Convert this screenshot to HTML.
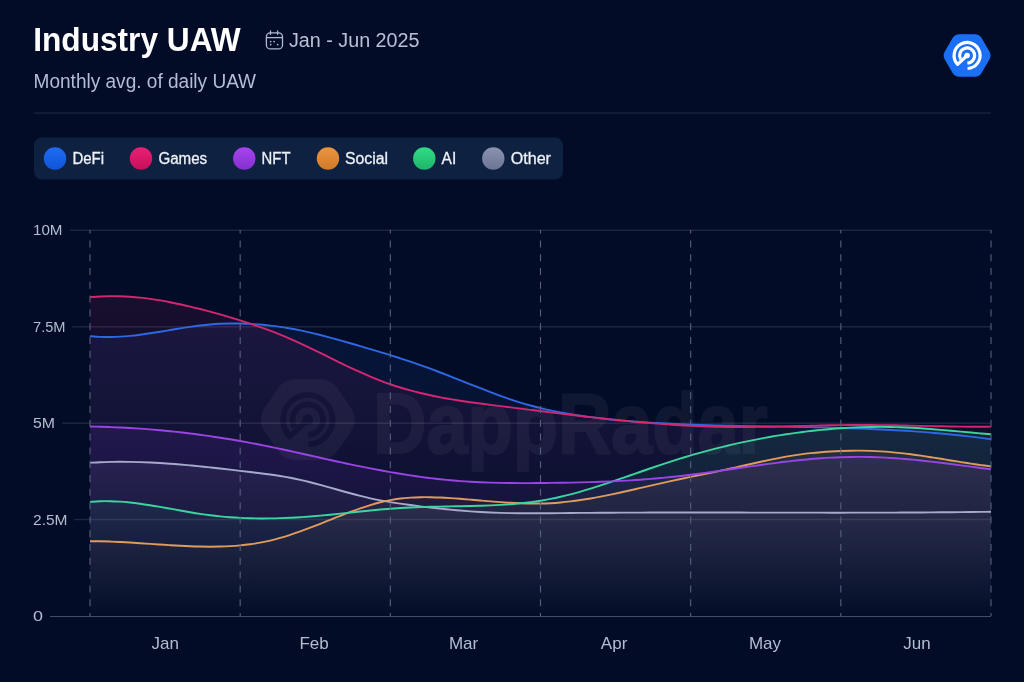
<!DOCTYPE html>
<html><head><meta charset="utf-8"><style>
html,body{margin:0;padding:0;background:#020c26;}
svg{display:block;font-family:"Liberation Sans",sans-serif;will-change:transform;}
.ax{font-size:17px;fill:#b4bccf;} .yax{font-size:15.5px;fill:#b4bccf;}
</style></head><body>
<svg width="1024" height="682" viewBox="0 0 1024 682">
<defs>
<linearGradient id="g_defi" x1="0" y1="0" x2="0" y2="1"><stop offset="0" stop-color="#2f6df0" stop-opacity="0.098"/><stop offset="1" stop-color="#2f6df0" stop-opacity="0.002"/></linearGradient>
<linearGradient id="g_games" x1="0" y1="0" x2="0" y2="1"><stop offset="0" stop-color="#d6206f" stop-opacity="0.108"/><stop offset="1" stop-color="#d6206f" stop-opacity="0.002"/></linearGradient>
<linearGradient id="g_other" x1="0" y1="0" x2="0" y2="1"><stop offset="0" stop-color="#a9aece" stop-opacity="0.0815"/><stop offset="1" stop-color="#a9aece" stop-opacity="0.001"/></linearGradient>
<linearGradient id="g_social" x1="0" y1="0" x2="0" y2="1"><stop offset="0" stop-color="#e8913b" stop-opacity="0.082"/><stop offset="1" stop-color="#e8913b" stop-opacity="0.001"/></linearGradient>
<linearGradient id="g_ai" x1="0" y1="0" x2="0" y2="1"><stop offset="0" stop-color="#2fd68c" stop-opacity="0.116"/><stop offset="1" stop-color="#2fd68c" stop-opacity="0.002"/></linearGradient>
<linearGradient id="g_nft" x1="0" y1="0" x2="0" y2="1"><stop offset="0" stop-color="#9a3cf2" stop-opacity="0.114"/><stop offset="1" stop-color="#9a3cf2" stop-opacity="0.002"/></linearGradient>

<linearGradient id="lgd" x1="0" y1="0" x2="0" y2="1"><stop offset="0" stop-color="#0e2140"/><stop offset="1" stop-color="#0e2140"/></linearGradient>
</defs>
<rect width="1024" height="682" fill="#020c26"/>
<text x="33.2" y="51.2" font-size="34" font-weight="700" fill="#ffffff" textLength="207.5" lengthAdjust="spacingAndGlyphs">Industry UAW</text>
<g fill="none" stroke="#b0b9d0" stroke-width="1.3" stroke-linecap="round">
<rect x="266.4" y="32.9" width="16.1" height="16.0" rx="4"/>
<line x1="270.5" y1="31" x2="270.5" y2="34.3"/><line x1="277.6" y1="31" x2="277.6" y2="34.3"/>
<line x1="266.6" y1="37.7" x2="282.3" y2="37.7"/>
</g>
<g fill="#b0b9d0"><circle cx="270.7" cy="41.6" r="0.85"/><circle cx="274.1" cy="41.6" r="0.85"/><circle cx="270.7" cy="44.6" r="0.85"/><circle cx="277.7" cy="44.6" r="0.85"/></g>
<text x="289" y="46.8" font-size="19.6" fill="#b9c1d5" textLength="130.5" lengthAdjust="spacingAndGlyphs">Jan - Jun 2025</text>
<text x="33.6" y="88" font-size="20" fill="#b5bdd5" textLength="222.5" lengthAdjust="spacingAndGlyphs">Monthly avg. of daily UAW</text>
<path d="M944.80,59.49 Q942.50,55.50 944.80,51.51 L952.49,38.16 Q954.80,34.15 959.42,34.15 L974.78,34.15 Q979.40,34.15 981.71,38.16 L989.40,51.51 Q991.70,55.50 989.40,59.49 L981.71,72.84 Q979.40,76.85 974.78,76.85 L959.42,76.85 Q954.80,76.85 952.49,72.84 Z" fill="#1b6ff6"/><path d="M967.55,68.49 A13.00,13.00 0 1 0 957.59,64.37 L967.10,55.50" fill="none" stroke="#ffffff" stroke-width="3.20" stroke-linejoin="round"/><path d="M960.60,59.25 A7.50,7.50 0 1 1 967.36,63.00" fill="none" stroke="#ffffff" stroke-width="3.20"/><circle cx="967.10" cy="55.50" r="2.80" fill="#ffffff"/>
<line x1="34" y1="113" x2="991" y2="113" stroke="#19213b" stroke-width="1.6"/>
<rect x="34" y="137.5" width="529" height="42" rx="8" fill="url(#lgd)"/>
<linearGradient id="lc_DeFi" x1="0" y1="0" x2="0" y2="1"><stop offset="0" stop-color="#1f6cf2"/><stop offset="1" stop-color="#0f55d6"/></linearGradient><circle cx="55" cy="158.5" r="11.2" fill="url(#lc_DeFi)"/><text x="72.4" y="164.2" font-size="16" fill="#eef1f7" stroke="#eef1f7" stroke-width="0.3" textLength="31.700000000000003" lengthAdjust="spacingAndGlyphs">DeFi</text>
<linearGradient id="lc_Games" x1="0" y1="0" x2="0" y2="1"><stop offset="0" stop-color="#ec1f74"/><stop offset="1" stop-color="#c40f5a"/></linearGradient><circle cx="141" cy="158.5" r="11.2" fill="url(#lc_Games)"/><text x="158.4" y="164.2" font-size="16" fill="#eef1f7" stroke="#eef1f7" stroke-width="0.3" textLength="48.800000000000004" lengthAdjust="spacingAndGlyphs">Games</text>
<linearGradient id="lc_NFT" x1="0" y1="0" x2="0" y2="1"><stop offset="0" stop-color="#a744f0"/><stop offset="1" stop-color="#8430d0"/></linearGradient><circle cx="244.3" cy="158.5" r="11.2" fill="url(#lc_NFT)"/><text x="261.6" y="164.2" font-size="16" fill="#eef1f7" stroke="#eef1f7" stroke-width="0.3" textLength="28.900000000000002" lengthAdjust="spacingAndGlyphs">NFT</text>
<linearGradient id="lc_Social" x1="0" y1="0" x2="0" y2="1"><stop offset="0" stop-color="#ed9640"/><stop offset="1" stop-color="#cf7a2a"/></linearGradient><circle cx="328" cy="158.5" r="11.2" fill="url(#lc_Social)"/><text x="345.0" y="164.2" font-size="16" fill="#eef1f7" stroke="#eef1f7" stroke-width="0.3" textLength="43.0" lengthAdjust="spacingAndGlyphs">Social</text>
<linearGradient id="lc_AI" x1="0" y1="0" x2="0" y2="1"><stop offset="0" stop-color="#2fdc86"/><stop offset="1" stop-color="#1fb56a"/></linearGradient><circle cx="424.3" cy="158.5" r="11.2" fill="url(#lc_AI)"/><text x="441.6" y="164.2" font-size="16" fill="#eef1f7" stroke="#eef1f7" stroke-width="0.3" textLength="14.7" lengthAdjust="spacingAndGlyphs">AI</text>
<linearGradient id="lc_Other" x1="0" y1="0" x2="0" y2="1"><stop offset="0" stop-color="#8a93b0"/><stop offset="1" stop-color="#6b7593"/></linearGradient><circle cx="493.3" cy="158.5" r="11.2" fill="url(#lc_Other)"/><text x="510.7" y="164.2" font-size="16" fill="#eef1f7" stroke="#eef1f7" stroke-width="0.3" textLength="40.300000000000004" lengthAdjust="spacingAndGlyphs">Other</text>

<line x1="70" y1="230.2" x2="991" y2="230.2" stroke="#1d243c" stroke-width="1.5"/>
<line x1="72.2" y1="326.7" x2="991" y2="326.7" stroke="#1d243c" stroke-width="1.5"/>
<line x1="62.3" y1="423.2" x2="991" y2="423.2" stroke="#1d243c" stroke-width="1.5"/>
<line x1="74.2" y1="519.5" x2="991" y2="519.5" stroke="#1d243c" stroke-width="1.5"/>
<line x1="50" y1="616.5" x2="991" y2="616.5" stroke="#444d67" stroke-width="1.0"/>

<text x="33" y="235.4" class="yax" textLength="29.5" lengthAdjust="spacingAndGlyphs">10M</text>
<text x="33" y="332.4" class="yax" textLength="32.5" lengthAdjust="spacingAndGlyphs">7.5M</text>
<text x="33" y="428.4" class="yax" textLength="22" lengthAdjust="spacingAndGlyphs">5M</text>
<text x="33" y="525.4" class="yax" textLength="34.5" lengthAdjust="spacingAndGlyphs">2.5M</text>
<text x="33" y="621.4" class="yax" textLength="10" lengthAdjust="spacingAndGlyphs">0</text>

<text x="165.3" y="648.9" class="ax" text-anchor="middle">Jan</text>
<text x="314.1" y="648.9" class="ax" text-anchor="middle">Feb</text>
<text x="463.6" y="648.9" class="ax" text-anchor="middle">Mar</text>
<text x="614.1" y="648.9" class="ax" text-anchor="middle">Apr</text>
<text x="765.0" y="648.9" class="ax" text-anchor="middle">May</text>
<text x="917.0" y="648.9" class="ax" text-anchor="middle">Jun</text>

<mask id="wmmask"><rect width="1024" height="682" fill="black"/><path d="M265.40,432.53 Q256.50,419.60 265.40,406.67 L277.63,388.91 Q284.43,379.04 296.41,379.04 L319.19,379.04 Q331.17,379.04 337.97,388.91 L350.20,406.67 Q359.10,419.60 350.20,432.53 L337.97,450.29 Q331.17,460.17 319.19,460.17 L296.41,460.17 Q284.43,460.17 277.63,450.29 Z" fill="#ffffff"/><path d="M308.66,444.28 A24.70,24.70 0 1 0 289.74,436.45 L307.80,419.60" fill="none" stroke="#000000" stroke-width="5.70" stroke-linejoin="round"/><path d="M294.64,427.20 A15.20,15.20 0 1 1 308.33,434.79" fill="none" stroke="#000000" stroke-width="5.70"/><circle cx="307.80" cy="419.60" r="5.32" fill="#000000"/><text x="373" y="453" font-size="86" font-weight="700" fill="#fff" stroke="#fff" stroke-width="2" stroke-linejoin="round" textLength="394.5" lengthAdjust="spacingAndGlyphs">DappRadar</text></mask>
<filter id="wmblur" x="0" y="0" width="1024" height="682" filterUnits="userSpaceOnUse"><feGaussianBlur stdDeviation="0.7"/></filter><g filter="url(#wmblur)"><rect width="1024" height="682" fill="#fffaf0" fill-opacity="0.05" mask="url(#wmmask)"/></g>
<path d="M90.00,336.08 C91.67,336.22 96.67,336.71 100.01,336.87 C103.35,337.03 106.69,337.07 110.02,337.04 C113.36,337.00 116.70,336.87 120.03,336.67 C123.37,336.47 126.71,336.19 130.04,335.86 C133.38,335.54 136.72,335.14 140.06,334.71 C143.39,334.28 146.73,333.80 150.07,333.30 C153.40,332.80 156.74,332.26 160.08,331.72 C163.41,331.18 166.75,330.61 170.09,330.06 C173.43,329.51 176.76,328.95 180.10,328.42 C183.44,327.89 186.77,327.36 190.11,326.88 C193.45,326.41 196.79,325.94 200.12,325.55 C203.46,325.15 206.80,324.78 210.13,324.49 C213.47,324.20 216.81,323.97 220.14,323.80 C223.48,323.63 226.82,323.52 230.16,323.47 C233.49,323.42 236.83,323.44 240.17,323.50 C243.50,323.57 246.84,323.69 250.18,323.87 C253.51,324.05 256.85,324.28 260.19,324.57 C263.53,324.85 266.86,325.19 270.20,325.58 C273.54,325.97 276.87,326.41 280.21,326.90 C283.55,327.39 286.89,327.93 290.22,328.52 C293.56,329.10 296.90,329.74 300.23,330.41 C303.57,331.09 306.91,331.82 310.24,332.58 C313.58,333.34 316.92,334.16 320.26,335.00 C323.59,335.84 326.93,336.72 330.27,337.62 C333.60,338.52 336.94,339.45 340.28,340.39 C343.61,341.33 346.95,342.29 350.29,343.25 C353.63,344.21 356.96,345.18 360.30,346.16 C363.64,347.13 366.97,348.10 370.31,349.09 C373.65,350.07 376.99,351.06 380.32,352.07 C383.66,353.08 387.00,354.10 390.33,355.14 C393.67,356.18 397.01,357.23 400.34,358.31 C403.68,359.39 407.02,360.49 410.36,361.61 C413.69,362.74 417.03,363.90 420.37,365.08 C423.70,366.26 427.04,367.48 430.38,368.72 C433.71,369.95 437.05,371.22 440.39,372.50 C443.73,373.77 447.06,375.07 450.40,376.38 C453.74,377.68 457.07,379.00 460.41,380.32 C463.75,381.63 467.09,382.96 470.42,384.27 C473.76,385.59 477.10,386.91 480.43,388.21 C483.77,389.51 487.11,390.81 490.44,392.07 C493.78,393.34 497.12,394.59 500.46,395.80 C503.79,397.01 507.13,398.19 510.47,399.32 C513.80,400.45 517.14,401.54 520.48,402.56 C523.81,403.59 527.15,404.56 530.49,405.48 C533.83,406.40 537.16,407.26 540.50,408.08 C543.84,408.90 547.17,409.66 550.51,410.39 C553.85,411.11 557.19,411.79 560.52,412.43 C563.86,413.07 567.20,413.66 570.53,414.23 C573.87,414.79 577.21,415.31 580.54,415.80 C583.88,416.30 587.22,416.75 590.56,417.18 C593.89,417.62 597.23,418.02 600.57,418.40 C603.90,418.78 607.24,419.13 610.58,419.46 C613.91,419.80 617.25,420.11 620.59,420.41 C623.93,420.71 627.26,420.99 630.60,421.25 C633.94,421.52 637.27,421.77 640.61,422.01 C643.95,422.24 647.29,422.46 650.62,422.67 C653.96,422.88 657.30,423.08 660.63,423.26 C663.97,423.45 667.31,423.62 670.64,423.78 C673.98,423.94 677.32,424.09 680.66,424.24 C683.99,424.38 687.33,424.51 690.67,424.63 C694.00,424.75 697.34,424.87 700.68,424.97 C704.01,425.08 707.35,425.18 710.69,425.27 C714.03,425.36 717.36,425.45 720.70,425.53 C724.04,425.61 727.37,425.68 730.71,425.75 C734.05,425.82 737.39,425.89 740.72,425.95 C744.06,426.02 747.40,426.08 750.73,426.13 C754.07,426.19 757.41,426.25 760.74,426.30 C764.08,426.36 767.42,426.41 770.76,426.46 C774.09,426.52 777.43,426.57 780.77,426.63 C784.10,426.68 787.44,426.74 790.78,426.79 C794.11,426.85 797.45,426.91 800.79,426.97 C804.13,427.04 807.46,427.10 810.80,427.17 C814.14,427.24 817.47,427.31 820.81,427.39 C824.15,427.47 827.49,427.55 830.82,427.64 C834.16,427.72 837.50,427.81 840.83,427.91 C844.17,428.01 847.51,428.12 850.84,428.23 C854.18,428.34 857.52,428.46 860.86,428.58 C864.19,428.71 867.53,428.84 870.87,428.98 C874.20,429.13 877.54,429.28 880.88,429.44 C884.21,429.60 887.55,429.76 890.89,429.94 C894.23,430.12 897.56,430.31 900.90,430.52 C904.24,430.72 907.57,430.93 910.91,431.15 C914.25,431.38 917.59,431.61 920.92,431.86 C924.26,432.11 927.60,432.37 930.93,432.64 C934.27,432.92 937.61,433.21 940.94,433.51 C944.28,433.81 947.62,434.13 950.96,434.46 C954.29,434.79 957.63,435.14 960.97,435.50 C964.30,435.86 967.64,436.24 970.98,436.64 C974.31,437.03 977.65,437.45 980.99,437.88 C984.33,438.31 989.33,439.00 991.00,439.22 L991,616 L90,616 Z" fill="url(#g_defi)"/>
<path d="M90.00,297.19 C91.67,297.06 96.67,296.60 100.01,296.43 C103.35,296.25 106.69,296.15 110.02,296.12 C113.36,296.09 116.70,296.13 120.03,296.24 C123.37,296.35 126.71,296.52 130.04,296.76 C133.38,296.99 136.72,297.29 140.06,297.64 C143.39,298.00 146.73,298.41 150.07,298.87 C153.40,299.33 156.74,299.84 160.08,300.40 C163.41,300.96 166.75,301.57 170.09,302.22 C173.43,302.86 176.76,303.56 180.10,304.28 C183.44,305.01 186.77,305.77 190.11,306.57 C193.45,307.36 196.79,308.19 200.12,309.04 C203.46,309.90 206.80,310.78 210.13,311.68 C213.47,312.59 216.81,313.51 220.14,314.46 C223.48,315.41 226.82,316.39 230.16,317.38 C233.49,318.38 236.83,319.41 240.17,320.46 C243.50,321.51 246.84,322.58 250.18,323.69 C253.51,324.80 256.85,325.93 260.19,327.10 C263.53,328.27 266.86,329.47 270.20,330.72 C273.54,331.97 276.87,333.25 280.21,334.59 C283.55,335.94 286.89,337.33 290.22,338.78 C293.56,340.22 296.90,341.73 300.23,343.28 C303.57,344.82 306.91,346.42 310.24,348.03 C313.58,349.63 316.92,351.28 320.26,352.92 C323.59,354.57 326.93,356.23 330.27,357.88 C333.60,359.52 336.94,361.18 340.28,362.79 C343.61,364.41 346.95,366.02 350.29,367.58 C353.63,369.14 356.96,370.68 360.30,372.17 C363.64,373.66 366.97,375.12 370.31,376.52 C373.65,377.91 376.99,379.27 380.32,380.56 C383.66,381.85 387.00,383.08 390.33,384.24 C393.67,385.40 397.01,386.49 400.34,387.53 C403.68,388.56 407.02,389.52 410.36,390.44 C413.69,391.35 417.03,392.20 420.37,393.01 C423.70,393.82 427.04,394.57 430.38,395.29 C433.71,396.01 437.05,396.67 440.39,397.31 C443.73,397.94 447.06,398.54 450.40,399.11 C453.74,399.67 457.07,400.21 460.41,400.72 C463.75,401.23 467.09,401.72 470.42,402.19 C473.76,402.66 477.10,403.11 480.43,403.55 C483.77,403.99 487.11,404.42 490.44,404.84 C493.78,405.27 497.12,405.69 500.46,406.11 C503.79,406.53 507.13,406.95 510.47,407.37 C513.80,407.79 517.14,408.21 520.48,408.63 C523.81,409.05 527.15,409.47 530.49,409.89 C533.83,410.31 537.16,410.73 540.50,411.14 C543.84,411.56 547.17,411.97 550.51,412.39 C553.85,412.80 557.19,413.20 560.52,413.61 C563.86,414.01 567.20,414.41 570.53,414.81 C573.87,415.21 577.21,415.60 580.54,415.99 C583.88,416.38 587.22,416.76 590.56,417.14 C593.89,417.51 597.23,417.88 600.57,418.25 C603.90,418.61 607.24,418.97 610.58,419.32 C613.91,419.67 617.25,420.02 620.59,420.35 C623.93,420.69 627.26,421.01 630.60,421.33 C633.94,421.65 637.27,421.96 640.61,422.26 C643.95,422.56 647.29,422.85 650.62,423.13 C653.96,423.40 657.30,423.67 660.63,423.92 C663.97,424.18 667.31,424.42 670.64,424.65 C673.98,424.87 677.32,425.09 680.66,425.29 C683.99,425.49 687.33,425.67 690.67,425.84 C694.00,426.01 697.34,426.16 700.68,426.30 C704.01,426.43 707.35,426.55 710.69,426.66 C714.03,426.76 717.36,426.84 720.70,426.90 C724.04,426.97 727.37,427.01 730.71,427.04 C734.05,427.07 737.39,427.08 740.72,427.08 C744.06,427.08 747.40,427.06 750.73,427.03 C754.07,427.01 757.41,426.96 760.74,426.92 C764.08,426.87 767.42,426.81 770.76,426.74 C774.09,426.68 777.43,426.60 780.77,426.52 C784.10,426.45 787.44,426.36 790.78,426.28 C794.11,426.19 797.45,426.11 800.79,426.02 C804.13,425.93 807.46,425.84 810.80,425.76 C814.14,425.67 817.47,425.59 820.81,425.51 C824.15,425.44 827.49,425.36 830.82,425.29 C834.16,425.23 837.50,425.17 840.83,425.12 C844.17,425.07 847.51,425.03 850.84,425.00 C854.18,424.97 857.52,424.95 860.86,424.95 C864.19,424.95 867.53,424.96 870.87,424.98 C874.20,425.00 877.54,425.04 880.88,425.08 C884.21,425.12 887.55,425.17 890.89,425.23 C894.23,425.29 897.56,425.35 900.90,425.42 C904.24,425.49 907.57,425.57 910.91,425.64 C914.25,425.72 917.59,425.80 920.92,425.87 C924.26,425.95 927.60,426.03 930.93,426.10 C934.27,426.17 937.61,426.25 940.94,426.31 C944.28,426.38 947.62,426.44 950.96,426.50 C954.29,426.55 957.63,426.60 960.97,426.64 C964.30,426.67 967.64,426.70 970.98,426.72 C974.31,426.73 977.65,426.74 980.99,426.73 C984.33,426.71 989.33,426.66 991.00,426.65 L991,616 L90,616 Z" fill="url(#g_games)"/>
<path d="M90.00,462.76 C91.67,462.67 96.67,462.37 100.01,462.23 C103.35,462.08 106.69,461.98 110.02,461.91 C113.36,461.83 116.70,461.79 120.03,461.79 C123.37,461.78 126.71,461.80 130.04,461.85 C133.38,461.90 136.72,461.99 140.06,462.09 C143.39,462.20 146.73,462.33 150.07,462.49 C153.40,462.65 156.74,462.83 160.08,463.03 C163.41,463.23 166.75,463.46 170.09,463.70 C173.43,463.95 176.76,464.21 180.10,464.49 C183.44,464.77 186.77,465.07 190.11,465.38 C193.45,465.69 196.79,466.02 200.12,466.35 C203.46,466.69 206.80,467.04 210.13,467.40 C213.47,467.76 216.81,468.13 220.14,468.50 C223.48,468.88 226.82,469.26 230.16,469.65 C233.49,470.04 236.83,470.43 240.17,470.83 C243.50,471.22 246.84,471.62 250.18,472.02 C253.51,472.42 256.85,472.81 260.19,473.23 C263.53,473.65 266.86,474.07 270.20,474.54 C273.54,475.00 276.87,475.48 280.21,476.03 C283.55,476.57 286.89,477.15 290.22,477.79 C293.56,478.43 296.90,479.14 300.23,479.89 C303.57,480.64 306.91,481.45 310.24,482.28 C313.58,483.12 316.92,484.00 320.26,484.90 C323.59,485.79 326.93,486.73 330.27,487.66 C333.60,488.59 336.94,489.56 340.28,490.49 C343.61,491.43 346.95,492.38 350.29,493.29 C353.63,494.20 356.96,495.10 360.30,495.94 C363.64,496.78 366.97,497.59 370.31,498.33 C373.65,499.07 376.99,499.74 380.32,500.38 C383.66,501.01 387.00,501.58 390.33,502.13 C393.67,502.68 397.01,503.18 400.34,503.66 C403.68,504.15 407.02,504.60 410.36,505.04 C413.69,505.49 417.03,505.92 420.37,506.34 C423.70,506.75 427.04,507.16 430.38,507.55 C433.71,507.93 437.05,508.30 440.39,508.66 C443.73,509.01 447.06,509.35 450.40,509.67 C453.74,509.98 457.07,510.29 460.41,510.56 C463.75,510.84 467.09,511.10 470.42,511.34 C473.76,511.58 477.10,511.79 480.43,511.99 C483.77,512.18 487.11,512.35 490.44,512.49 C493.78,512.64 497.12,512.76 500.46,512.86 C503.79,512.96 507.13,513.04 510.47,513.10 C513.80,513.16 517.14,513.20 520.48,513.23 C523.81,513.27 527.15,513.28 530.49,513.28 C533.83,513.29 537.16,513.28 540.50,513.26 C543.84,513.25 547.17,513.22 550.51,513.20 C553.85,513.17 557.19,513.14 560.52,513.10 C563.86,513.07 567.20,513.04 570.53,513.01 C573.87,512.97 577.21,512.94 580.54,512.91 C583.88,512.89 587.22,512.86 590.56,512.83 C593.89,512.81 597.23,512.79 600.57,512.77 C603.90,512.74 607.24,512.72 610.58,512.71 C613.91,512.69 617.25,512.67 620.59,512.66 C623.93,512.64 627.26,512.63 630.60,512.62 C633.94,512.60 637.27,512.59 640.61,512.58 C643.95,512.57 647.29,512.56 650.62,512.56 C653.96,512.55 657.30,512.54 660.63,512.54 C663.97,512.53 667.31,512.53 670.64,512.53 C673.98,512.52 677.32,512.52 680.66,512.52 C683.99,512.52 687.33,512.52 690.67,512.52 C694.00,512.52 697.34,512.52 700.68,512.52 C704.01,512.52 707.35,512.52 710.69,512.53 C714.03,512.53 717.36,512.53 720.70,512.53 C724.04,512.54 727.37,512.54 730.71,512.55 C734.05,512.55 737.39,512.56 740.72,512.56 C744.06,512.57 747.40,512.57 750.73,512.58 C754.07,512.58 757.41,512.59 760.74,512.59 C764.08,512.60 767.42,512.60 770.76,512.61 C774.09,512.61 777.43,512.62 780.77,512.62 C784.10,512.63 787.44,512.64 790.78,512.64 C794.11,512.64 797.45,512.65 800.79,512.65 C804.13,512.66 807.46,512.66 810.80,512.66 C814.14,512.67 817.47,512.67 820.81,512.67 C824.15,512.67 827.49,512.68 830.82,512.68 C834.16,512.68 837.50,512.68 840.83,512.68 C844.17,512.68 847.51,512.67 850.84,512.67 C854.18,512.67 857.52,512.67 860.86,512.66 C864.19,512.66 867.53,512.65 870.87,512.65 C874.20,512.64 877.54,512.63 880.88,512.62 C884.21,512.62 887.55,512.61 890.89,512.60 C894.23,512.58 897.56,512.57 900.90,512.56 C904.24,512.54 907.57,512.53 910.91,512.51 C914.25,512.50 917.59,512.48 920.92,512.46 C924.26,512.44 927.60,512.42 930.93,512.39 C934.27,512.37 937.61,512.35 940.94,512.32 C944.28,512.29 947.62,512.26 950.96,512.23 C954.29,512.20 957.63,512.17 960.97,512.14 C964.30,512.10 967.64,512.07 970.98,512.03 C974.31,511.99 977.65,511.95 980.99,511.91 C984.33,511.86 989.33,511.80 991.00,511.77 L991,616 L90,616 Z" fill="url(#g_other)"/>
<path d="M90.00,541.28 C91.67,541.28 96.67,541.27 100.01,541.32 C103.35,541.37 106.69,541.46 110.02,541.57 C113.36,541.69 116.70,541.83 120.03,541.99 C123.37,542.16 126.71,542.35 130.04,542.54 C133.38,542.74 136.72,542.96 140.06,543.18 C143.39,543.40 146.73,543.63 150.07,543.86 C153.40,544.09 156.74,544.33 160.08,544.55 C163.41,544.78 166.75,545.00 170.09,545.21 C173.43,545.41 176.76,545.61 180.10,545.79 C183.44,545.96 186.77,546.12 190.11,546.25 C193.45,546.38 196.79,546.49 200.12,546.56 C203.46,546.64 206.80,546.68 210.13,546.68 C213.47,546.68 216.81,546.65 220.14,546.56 C223.48,546.47 226.82,546.34 230.16,546.14 C233.49,545.95 236.83,545.71 240.17,545.39 C243.50,545.07 246.84,544.70 250.18,544.24 C253.51,543.78 256.85,543.26 260.19,542.65 C263.53,542.03 266.86,541.34 270.20,540.55 C273.54,539.76 276.87,538.88 280.21,537.93 C283.55,536.98 286.89,535.94 290.22,534.85 C293.56,533.76 296.90,532.60 300.23,531.40 C303.57,530.21 306.91,528.95 310.24,527.68 C313.58,526.41 316.92,525.10 320.26,523.78 C323.59,522.47 326.93,521.12 330.27,519.79 C333.60,518.47 336.94,517.12 340.28,515.81 C343.61,514.51 346.95,513.20 350.29,511.96 C353.63,510.71 356.96,509.48 360.30,508.33 C363.64,507.19 366.97,506.08 370.31,505.07 C373.65,504.06 376.99,503.11 380.32,502.27 C383.66,501.44 387.00,500.69 390.33,500.07 C393.67,499.45 397.01,498.94 400.34,498.53 C403.68,498.12 407.02,497.83 410.36,497.60 C413.69,497.38 417.03,497.25 420.37,497.18 C423.70,497.12 427.04,497.13 430.38,497.19 C433.71,497.25 437.05,497.37 440.39,497.53 C443.73,497.68 447.06,497.88 450.40,498.10 C453.74,498.31 457.07,498.57 460.41,498.82 C463.75,499.08 467.09,499.36 470.42,499.64 C473.76,499.92 477.10,500.22 480.43,500.50 C483.77,500.78 487.11,501.08 490.44,501.35 C493.78,501.62 497.12,501.89 500.46,502.13 C503.79,502.37 507.13,502.60 510.47,502.79 C513.80,502.98 517.14,503.15 520.48,503.28 C523.81,503.40 527.15,503.50 530.49,503.54 C533.83,503.58 537.16,503.58 540.50,503.52 C543.84,503.46 547.17,503.35 550.51,503.18 C553.85,503.00 557.19,502.76 560.52,502.47 C563.86,502.17 567.20,501.81 570.53,501.41 C573.87,501.01 577.21,500.56 580.54,500.06 C583.88,499.57 587.22,499.03 590.56,498.45 C593.89,497.88 597.23,497.26 600.57,496.62 C603.90,495.98 607.24,495.31 610.58,494.62 C613.91,493.93 617.25,493.20 620.59,492.47 C623.93,491.74 627.26,490.99 630.60,490.23 C633.94,489.47 637.27,488.70 640.61,487.93 C643.95,487.16 647.29,486.38 650.62,485.62 C653.96,484.85 657.30,484.08 660.63,483.32 C663.97,482.57 667.31,481.82 670.64,481.10 C673.98,480.37 677.32,479.66 680.66,478.96 C683.99,478.25 687.33,477.57 690.67,476.88 C694.00,476.20 697.34,475.52 700.68,474.84 C704.01,474.15 707.35,473.48 710.69,472.79 C714.03,472.09 717.36,471.40 720.70,470.69 C724.04,469.98 727.37,469.26 730.71,468.52 C734.05,467.79 737.39,467.03 740.72,466.27 C744.06,465.51 747.40,464.73 750.73,463.98 C754.07,463.22 757.41,462.46 760.74,461.73 C764.08,460.99 767.42,460.27 770.76,459.58 C774.09,458.90 777.43,458.24 780.77,457.62 C784.10,457.01 787.44,456.43 790.78,455.90 C794.11,455.36 797.45,454.87 800.79,454.41 C804.13,453.96 807.46,453.55 810.80,453.18 C814.14,452.81 817.47,452.48 820.81,452.19 C824.15,451.90 827.49,451.65 830.82,451.44 C834.16,451.23 837.50,451.07 840.83,450.94 C844.17,450.81 847.51,450.73 850.84,450.68 C854.18,450.64 857.52,450.64 860.86,450.67 C864.19,450.71 867.53,450.79 870.87,450.91 C874.20,451.03 877.54,451.19 880.88,451.39 C884.21,451.59 887.55,451.83 890.89,452.11 C894.23,452.39 897.56,452.72 900.90,453.08 C904.24,453.44 907.57,453.85 910.91,454.28 C914.25,454.71 917.59,455.18 920.92,455.67 C924.26,456.16 927.60,456.67 930.93,457.20 C934.27,457.72 937.61,458.26 940.94,458.81 C944.28,459.35 947.62,459.91 950.96,460.45 C954.29,461.00 957.63,461.55 960.97,462.08 C964.30,462.61 967.64,463.14 970.98,463.63 C974.31,464.13 977.65,464.62 980.99,465.07 C984.33,465.52 989.33,466.12 991.00,466.33 L991,616 L90,616 Z" fill="url(#g_social)"/>
<path d="M90.00,501.83 C91.67,501.73 96.67,501.33 100.01,501.22 C103.35,501.12 106.69,501.12 110.02,501.19 C113.36,501.26 116.70,501.43 120.03,501.66 C123.37,501.88 126.71,502.19 130.04,502.54 C133.38,502.89 136.72,503.31 140.06,503.76 C143.39,504.21 146.73,504.72 150.07,505.24 C153.40,505.76 156.74,506.33 160.08,506.90 C163.41,507.48 166.75,508.08 170.09,508.67 C173.43,509.27 176.76,509.88 180.10,510.47 C183.44,511.06 186.77,511.66 190.11,512.22 C193.45,512.78 196.79,513.33 200.12,513.83 C203.46,514.34 206.80,514.82 210.13,515.24 C213.47,515.67 216.81,516.05 220.14,516.39 C223.48,516.72 226.82,517.01 230.16,517.26 C233.49,517.51 236.83,517.71 240.17,517.88 C243.50,518.05 246.84,518.18 250.18,518.27 C253.51,518.36 256.85,518.41 260.19,518.43 C263.53,518.45 266.86,518.44 270.20,518.39 C273.54,518.35 276.87,518.27 280.21,518.16 C283.55,518.05 286.89,517.92 290.22,517.76 C293.56,517.60 296.90,517.41 300.23,517.19 C303.57,516.98 306.91,516.75 310.24,516.49 C313.58,516.23 316.92,515.95 320.26,515.66 C323.59,515.36 326.93,515.05 330.27,514.72 C333.60,514.39 336.94,514.04 340.28,513.68 C343.61,513.33 346.95,512.96 350.29,512.60 C353.63,512.24 356.96,511.87 360.30,511.52 C363.64,511.16 366.97,510.81 370.31,510.47 C373.65,510.14 376.99,509.81 380.32,509.51 C383.66,509.22 387.00,508.94 390.33,508.69 C393.67,508.44 397.01,508.22 400.34,508.03 C403.68,507.83 407.02,507.66 410.36,507.51 C413.69,507.36 417.03,507.24 420.37,507.12 C423.70,507.00 427.04,506.91 430.38,506.82 C433.71,506.73 437.05,506.66 440.39,506.59 C443.73,506.52 447.06,506.46 450.40,506.40 C453.74,506.34 457.07,506.29 460.41,506.22 C463.75,506.16 467.09,506.10 470.42,506.02 C473.76,505.94 477.10,505.86 480.43,505.75 C483.77,505.65 487.11,505.53 490.44,505.39 C493.78,505.24 497.12,505.08 500.46,504.88 C503.79,504.68 507.13,504.46 510.47,504.19 C513.80,503.93 517.14,503.64 520.48,503.29 C523.81,502.95 527.15,502.57 530.49,502.14 C533.83,501.70 537.16,501.23 540.50,500.69 C543.84,500.15 547.17,499.56 550.51,498.91 C553.85,498.26 557.19,497.54 560.52,496.77 C563.86,496.01 567.20,495.18 570.53,494.32 C573.87,493.45 577.21,492.53 580.54,491.58 C583.88,490.63 587.22,489.63 590.56,488.61 C593.89,487.59 597.23,486.53 600.57,485.45 C603.90,484.37 607.24,483.26 610.58,482.14 C613.91,481.02 617.25,479.87 620.59,478.72 C623.93,477.57 627.26,476.40 630.60,475.24 C633.94,474.08 637.27,472.91 640.61,471.74 C643.95,470.58 647.29,469.42 650.62,468.27 C653.96,467.12 657.30,465.98 660.63,464.86 C663.97,463.75 667.31,462.64 670.64,461.57 C673.98,460.50 677.32,459.45 680.66,458.42 C683.99,457.40 687.33,456.40 690.67,455.42 C694.00,454.45 697.34,453.50 700.68,452.57 C704.01,451.65 707.35,450.75 710.69,449.88 C714.03,449.00 717.36,448.15 720.70,447.33 C724.04,446.50 727.37,445.70 730.71,444.92 C734.05,444.15 737.39,443.40 740.72,442.67 C744.06,441.94 747.40,441.24 750.73,440.56 C754.07,439.88 757.41,439.23 760.74,438.60 C764.08,437.97 767.42,437.37 770.76,436.79 C774.09,436.20 777.43,435.65 780.77,435.12 C784.10,434.58 787.44,434.07 790.78,433.59 C794.11,433.11 797.45,432.65 800.79,432.21 C804.13,431.78 807.46,431.37 810.80,430.98 C814.14,430.60 817.47,430.24 820.81,429.91 C824.15,429.58 827.49,429.27 830.82,429.00 C834.16,428.72 837.50,428.46 840.83,428.24 C844.17,428.02 847.51,427.82 850.84,427.65 C854.18,427.48 857.52,427.34 860.86,427.22 C864.19,427.11 867.53,427.03 870.87,426.97 C874.20,426.91 877.54,426.89 880.88,426.89 C884.21,426.89 887.55,426.92 890.89,426.98 C894.23,427.05 897.56,427.14 900.90,427.26 C904.24,427.38 907.57,427.53 910.91,427.71 C914.25,427.89 917.59,428.09 920.92,428.31 C924.26,428.53 927.60,428.78 930.93,429.04 C934.27,429.29 937.61,429.57 940.94,429.85 C944.28,430.14 947.62,430.43 950.96,430.73 C954.29,431.03 957.63,431.34 960.97,431.65 C964.30,431.95 967.64,432.26 970.98,432.57 C974.31,432.87 977.65,433.17 980.99,433.46 C984.33,433.75 989.33,434.16 991.00,434.30 L991,616 L90,616 Z" fill="url(#g_ai)"/>
<path d="M90.00,426.52 C91.67,426.56 96.67,426.65 100.01,426.74 C103.35,426.83 106.69,426.94 110.02,427.06 C113.36,427.19 116.70,427.33 120.03,427.49 C123.37,427.65 126.71,427.83 130.04,428.03 C133.38,428.22 136.72,428.44 140.06,428.67 C143.39,428.90 146.73,429.15 150.07,429.42 C153.40,429.69 156.74,429.97 160.08,430.27 C163.41,430.58 166.75,430.90 170.09,431.24 C173.43,431.58 176.76,431.94 180.10,432.31 C183.44,432.69 186.77,433.08 190.11,433.49 C193.45,433.90 196.79,434.33 200.12,434.78 C203.46,435.23 206.80,435.70 210.13,436.18 C213.47,436.66 216.81,437.17 220.14,437.69 C223.48,438.21 226.82,438.75 230.16,439.30 C233.49,439.86 236.83,440.43 240.17,441.02 C243.50,441.61 246.84,442.21 250.18,442.84 C253.51,443.46 256.85,444.10 260.19,444.76 C263.53,445.41 266.86,446.08 270.20,446.77 C273.54,447.46 276.87,448.16 280.21,448.87 C283.55,449.59 286.89,450.32 290.22,451.05 C293.56,451.78 296.90,452.53 300.23,453.27 C303.57,454.02 306.91,454.77 310.24,455.52 C313.58,456.27 316.92,457.02 320.26,457.77 C323.59,458.52 326.93,459.27 330.27,460.00 C333.60,460.74 336.94,461.47 340.28,462.19 C343.61,462.91 346.95,463.63 350.29,464.33 C353.63,465.03 356.96,465.72 360.30,466.40 C363.64,467.08 366.97,467.74 370.31,468.39 C373.65,469.04 376.99,469.68 380.32,470.30 C383.66,470.92 387.00,471.53 390.33,472.11 C393.67,472.69 397.01,473.26 400.34,473.81 C403.68,474.36 407.02,474.88 410.36,475.39 C413.69,475.89 417.03,476.38 420.37,476.83 C423.70,477.29 427.04,477.73 430.38,478.14 C433.71,478.55 437.05,478.93 440.39,479.29 C443.73,479.64 447.06,479.97 450.40,480.27 C453.74,480.57 457.07,480.84 460.41,481.08 C463.75,481.33 467.09,481.54 470.42,481.73 C473.76,481.93 477.10,482.09 480.43,482.24 C483.77,482.38 487.11,482.51 490.44,482.61 C493.78,482.72 497.12,482.80 500.46,482.87 C503.79,482.94 507.13,482.99 510.47,483.02 C513.80,483.06 517.14,483.08 520.48,483.09 C523.81,483.10 527.15,483.10 530.49,483.09 C533.83,483.08 537.16,483.05 540.50,483.03 C543.84,483.00 547.17,482.96 550.51,482.92 C553.85,482.88 557.19,482.84 560.52,482.79 C563.86,482.73 567.20,482.68 570.53,482.61 C573.87,482.55 577.21,482.48 580.54,482.39 C583.88,482.31 587.22,482.22 590.56,482.12 C593.89,482.02 597.23,481.91 600.57,481.79 C603.90,481.67 607.24,481.53 610.58,481.39 C613.91,481.24 617.25,481.08 620.59,480.91 C623.93,480.73 627.26,480.55 630.60,480.34 C633.94,480.14 637.27,479.92 640.61,479.68 C643.95,479.45 647.29,479.19 650.62,478.92 C653.96,478.65 657.30,478.36 660.63,478.05 C663.97,477.74 667.31,477.41 670.64,477.06 C673.98,476.71 677.32,476.34 680.66,475.96 C683.99,475.57 687.33,475.16 690.67,474.74 C694.00,474.32 697.34,473.89 700.68,473.44 C704.01,473.00 707.35,472.54 710.69,472.08 C714.03,471.62 717.36,471.14 720.70,470.67 C724.04,470.19 727.37,469.71 730.71,469.23 C734.05,468.75 737.39,468.27 740.72,467.79 C744.06,467.30 747.40,466.82 750.73,466.35 C754.07,465.88 757.41,465.41 760.74,464.95 C764.08,464.49 767.42,464.03 770.76,463.59 C774.09,463.15 777.43,462.72 780.77,462.31 C784.10,461.89 787.44,461.49 790.78,461.11 C794.11,460.73 797.45,460.36 800.79,460.02 C804.13,459.68 807.46,459.36 810.80,459.06 C814.14,458.77 817.47,458.50 820.81,458.26 C824.15,458.02 827.49,457.80 830.82,457.62 C834.16,457.44 837.50,457.29 840.83,457.18 C844.17,457.06 847.51,456.98 850.84,456.94 C854.18,456.89 857.52,456.88 860.86,456.91 C864.19,456.93 867.53,456.98 870.87,457.07 C874.20,457.15 877.54,457.27 880.88,457.42 C884.21,457.56 887.55,457.74 890.89,457.94 C894.23,458.15 897.56,458.38 900.90,458.64 C904.24,458.90 907.57,459.19 910.91,459.49 C914.25,459.80 917.59,460.13 920.92,460.48 C924.26,460.83 927.60,461.20 930.93,461.59 C934.27,461.97 937.61,462.37 940.94,462.78 C944.28,463.19 947.62,463.61 950.96,464.04 C954.29,464.46 957.63,464.90 960.97,465.34 C964.30,465.78 967.64,466.22 970.98,466.66 C974.31,467.10 977.65,467.55 980.99,467.98 C984.33,468.42 989.33,469.06 991.00,469.28 L991,616 L90,616 Z" fill="url(#g_nft)"/>

<path d="M90.00,336.08 C91.67,336.22 96.67,336.71 100.01,336.87 C103.35,337.03 106.69,337.07 110.02,337.04 C113.36,337.00 116.70,336.87 120.03,336.67 C123.37,336.47 126.71,336.19 130.04,335.86 C133.38,335.54 136.72,335.14 140.06,334.71 C143.39,334.28 146.73,333.80 150.07,333.30 C153.40,332.80 156.74,332.26 160.08,331.72 C163.41,331.18 166.75,330.61 170.09,330.06 C173.43,329.51 176.76,328.95 180.10,328.42 C183.44,327.89 186.77,327.36 190.11,326.88 C193.45,326.41 196.79,325.94 200.12,325.55 C203.46,325.15 206.80,324.78 210.13,324.49 C213.47,324.20 216.81,323.97 220.14,323.80 C223.48,323.63 226.82,323.52 230.16,323.47 C233.49,323.42 236.83,323.44 240.17,323.50 C243.50,323.57 246.84,323.69 250.18,323.87 C253.51,324.05 256.85,324.28 260.19,324.57 C263.53,324.85 266.86,325.19 270.20,325.58 C273.54,325.97 276.87,326.41 280.21,326.90 C283.55,327.39 286.89,327.93 290.22,328.52 C293.56,329.10 296.90,329.74 300.23,330.41 C303.57,331.09 306.91,331.82 310.24,332.58 C313.58,333.34 316.92,334.16 320.26,335.00 C323.59,335.84 326.93,336.72 330.27,337.62 C333.60,338.52 336.94,339.45 340.28,340.39 C343.61,341.33 346.95,342.29 350.29,343.25 C353.63,344.21 356.96,345.18 360.30,346.16 C363.64,347.13 366.97,348.10 370.31,349.09 C373.65,350.07 376.99,351.06 380.32,352.07 C383.66,353.08 387.00,354.10 390.33,355.14 C393.67,356.18 397.01,357.23 400.34,358.31 C403.68,359.39 407.02,360.49 410.36,361.61 C413.69,362.74 417.03,363.90 420.37,365.08 C423.70,366.26 427.04,367.48 430.38,368.72 C433.71,369.95 437.05,371.22 440.39,372.50 C443.73,373.77 447.06,375.07 450.40,376.38 C453.74,377.68 457.07,379.00 460.41,380.32 C463.75,381.63 467.09,382.96 470.42,384.27 C473.76,385.59 477.10,386.91 480.43,388.21 C483.77,389.51 487.11,390.81 490.44,392.07 C493.78,393.34 497.12,394.59 500.46,395.80 C503.79,397.01 507.13,398.19 510.47,399.32 C513.80,400.45 517.14,401.54 520.48,402.56 C523.81,403.59 527.15,404.56 530.49,405.48 C533.83,406.40 537.16,407.26 540.50,408.08 C543.84,408.90 547.17,409.66 550.51,410.39 C553.85,411.11 557.19,411.79 560.52,412.43 C563.86,413.07 567.20,413.66 570.53,414.23 C573.87,414.79 577.21,415.31 580.54,415.80 C583.88,416.30 587.22,416.75 590.56,417.18 C593.89,417.62 597.23,418.02 600.57,418.40 C603.90,418.78 607.24,419.13 610.58,419.46 C613.91,419.80 617.25,420.11 620.59,420.41 C623.93,420.71 627.26,420.99 630.60,421.25 C633.94,421.52 637.27,421.77 640.61,422.01 C643.95,422.24 647.29,422.46 650.62,422.67 C653.96,422.88 657.30,423.08 660.63,423.26 C663.97,423.45 667.31,423.62 670.64,423.78 C673.98,423.94 677.32,424.09 680.66,424.24 C683.99,424.38 687.33,424.51 690.67,424.63 C694.00,424.75 697.34,424.87 700.68,424.97 C704.01,425.08 707.35,425.18 710.69,425.27 C714.03,425.36 717.36,425.45 720.70,425.53 C724.04,425.61 727.37,425.68 730.71,425.75 C734.05,425.82 737.39,425.89 740.72,425.95 C744.06,426.02 747.40,426.08 750.73,426.13 C754.07,426.19 757.41,426.25 760.74,426.30 C764.08,426.36 767.42,426.41 770.76,426.46 C774.09,426.52 777.43,426.57 780.77,426.63 C784.10,426.68 787.44,426.74 790.78,426.79 C794.11,426.85 797.45,426.91 800.79,426.97 C804.13,427.04 807.46,427.10 810.80,427.17 C814.14,427.24 817.47,427.31 820.81,427.39 C824.15,427.47 827.49,427.55 830.82,427.64 C834.16,427.72 837.50,427.81 840.83,427.91 C844.17,428.01 847.51,428.12 850.84,428.23 C854.18,428.34 857.52,428.46 860.86,428.58 C864.19,428.71 867.53,428.84 870.87,428.98 C874.20,429.13 877.54,429.28 880.88,429.44 C884.21,429.60 887.55,429.76 890.89,429.94 C894.23,430.12 897.56,430.31 900.90,430.52 C904.24,430.72 907.57,430.93 910.91,431.15 C914.25,431.38 917.59,431.61 920.92,431.86 C924.26,432.11 927.60,432.37 930.93,432.64 C934.27,432.92 937.61,433.21 940.94,433.51 C944.28,433.81 947.62,434.13 950.96,434.46 C954.29,434.79 957.63,435.14 960.97,435.50 C964.30,435.86 967.64,436.24 970.98,436.64 C974.31,437.03 977.65,437.45 980.99,437.88 C984.33,438.31 989.33,439.00 991.00,439.22" fill="none" stroke="#2e68e4" stroke-width="1.9"/>
<path d="M90.00,297.19 C91.67,297.06 96.67,296.60 100.01,296.43 C103.35,296.25 106.69,296.15 110.02,296.12 C113.36,296.09 116.70,296.13 120.03,296.24 C123.37,296.35 126.71,296.52 130.04,296.76 C133.38,296.99 136.72,297.29 140.06,297.64 C143.39,298.00 146.73,298.41 150.07,298.87 C153.40,299.33 156.74,299.84 160.08,300.40 C163.41,300.96 166.75,301.57 170.09,302.22 C173.43,302.86 176.76,303.56 180.10,304.28 C183.44,305.01 186.77,305.77 190.11,306.57 C193.45,307.36 196.79,308.19 200.12,309.04 C203.46,309.90 206.80,310.78 210.13,311.68 C213.47,312.59 216.81,313.51 220.14,314.46 C223.48,315.41 226.82,316.39 230.16,317.38 C233.49,318.38 236.83,319.41 240.17,320.46 C243.50,321.51 246.84,322.58 250.18,323.69 C253.51,324.80 256.85,325.93 260.19,327.10 C263.53,328.27 266.86,329.47 270.20,330.72 C273.54,331.97 276.87,333.25 280.21,334.59 C283.55,335.94 286.89,337.33 290.22,338.78 C293.56,340.22 296.90,341.73 300.23,343.28 C303.57,344.82 306.91,346.42 310.24,348.03 C313.58,349.63 316.92,351.28 320.26,352.92 C323.59,354.57 326.93,356.23 330.27,357.88 C333.60,359.52 336.94,361.18 340.28,362.79 C343.61,364.41 346.95,366.02 350.29,367.58 C353.63,369.14 356.96,370.68 360.30,372.17 C363.64,373.66 366.97,375.12 370.31,376.52 C373.65,377.91 376.99,379.27 380.32,380.56 C383.66,381.85 387.00,383.08 390.33,384.24 C393.67,385.40 397.01,386.49 400.34,387.53 C403.68,388.56 407.02,389.52 410.36,390.44 C413.69,391.35 417.03,392.20 420.37,393.01 C423.70,393.82 427.04,394.57 430.38,395.29 C433.71,396.01 437.05,396.67 440.39,397.31 C443.73,397.94 447.06,398.54 450.40,399.11 C453.74,399.67 457.07,400.21 460.41,400.72 C463.75,401.23 467.09,401.72 470.42,402.19 C473.76,402.66 477.10,403.11 480.43,403.55 C483.77,403.99 487.11,404.42 490.44,404.84 C493.78,405.27 497.12,405.69 500.46,406.11 C503.79,406.53 507.13,406.95 510.47,407.37 C513.80,407.79 517.14,408.21 520.48,408.63 C523.81,409.05 527.15,409.47 530.49,409.89 C533.83,410.31 537.16,410.73 540.50,411.14 C543.84,411.56 547.17,411.97 550.51,412.39 C553.85,412.80 557.19,413.20 560.52,413.61 C563.86,414.01 567.20,414.41 570.53,414.81 C573.87,415.21 577.21,415.60 580.54,415.99 C583.88,416.38 587.22,416.76 590.56,417.14 C593.89,417.51 597.23,417.88 600.57,418.25 C603.90,418.61 607.24,418.97 610.58,419.32 C613.91,419.67 617.25,420.02 620.59,420.35 C623.93,420.69 627.26,421.01 630.60,421.33 C633.94,421.65 637.27,421.96 640.61,422.26 C643.95,422.56 647.29,422.85 650.62,423.13 C653.96,423.40 657.30,423.67 660.63,423.92 C663.97,424.18 667.31,424.42 670.64,424.65 C673.98,424.87 677.32,425.09 680.66,425.29 C683.99,425.49 687.33,425.67 690.67,425.84 C694.00,426.01 697.34,426.16 700.68,426.30 C704.01,426.43 707.35,426.55 710.69,426.66 C714.03,426.76 717.36,426.84 720.70,426.90 C724.04,426.97 727.37,427.01 730.71,427.04 C734.05,427.07 737.39,427.08 740.72,427.08 C744.06,427.08 747.40,427.06 750.73,427.03 C754.07,427.01 757.41,426.96 760.74,426.92 C764.08,426.87 767.42,426.81 770.76,426.74 C774.09,426.68 777.43,426.60 780.77,426.52 C784.10,426.45 787.44,426.36 790.78,426.28 C794.11,426.19 797.45,426.11 800.79,426.02 C804.13,425.93 807.46,425.84 810.80,425.76 C814.14,425.67 817.47,425.59 820.81,425.51 C824.15,425.44 827.49,425.36 830.82,425.29 C834.16,425.23 837.50,425.17 840.83,425.12 C844.17,425.07 847.51,425.03 850.84,425.00 C854.18,424.97 857.52,424.95 860.86,424.95 C864.19,424.95 867.53,424.96 870.87,424.98 C874.20,425.00 877.54,425.04 880.88,425.08 C884.21,425.12 887.55,425.17 890.89,425.23 C894.23,425.29 897.56,425.35 900.90,425.42 C904.24,425.49 907.57,425.57 910.91,425.64 C914.25,425.72 917.59,425.80 920.92,425.87 C924.26,425.95 927.60,426.03 930.93,426.10 C934.27,426.17 937.61,426.25 940.94,426.31 C944.28,426.38 947.62,426.44 950.96,426.50 C954.29,426.55 957.63,426.60 960.97,426.64 C964.30,426.67 967.64,426.70 970.98,426.72 C974.31,426.73 977.65,426.74 980.99,426.73 C984.33,426.71 989.33,426.66 991.00,426.65" fill="none" stroke="#d52672" stroke-width="1.9"/>
<path d="M90.00,462.76 C91.67,462.67 96.67,462.37 100.01,462.23 C103.35,462.08 106.69,461.98 110.02,461.91 C113.36,461.83 116.70,461.79 120.03,461.79 C123.37,461.78 126.71,461.80 130.04,461.85 C133.38,461.90 136.72,461.99 140.06,462.09 C143.39,462.20 146.73,462.33 150.07,462.49 C153.40,462.65 156.74,462.83 160.08,463.03 C163.41,463.23 166.75,463.46 170.09,463.70 C173.43,463.95 176.76,464.21 180.10,464.49 C183.44,464.77 186.77,465.07 190.11,465.38 C193.45,465.69 196.79,466.02 200.12,466.35 C203.46,466.69 206.80,467.04 210.13,467.40 C213.47,467.76 216.81,468.13 220.14,468.50 C223.48,468.88 226.82,469.26 230.16,469.65 C233.49,470.04 236.83,470.43 240.17,470.83 C243.50,471.22 246.84,471.62 250.18,472.02 C253.51,472.42 256.85,472.81 260.19,473.23 C263.53,473.65 266.86,474.07 270.20,474.54 C273.54,475.00 276.87,475.48 280.21,476.03 C283.55,476.57 286.89,477.15 290.22,477.79 C293.56,478.43 296.90,479.14 300.23,479.89 C303.57,480.64 306.91,481.45 310.24,482.28 C313.58,483.12 316.92,484.00 320.26,484.90 C323.59,485.79 326.93,486.73 330.27,487.66 C333.60,488.59 336.94,489.56 340.28,490.49 C343.61,491.43 346.95,492.38 350.29,493.29 C353.63,494.20 356.96,495.10 360.30,495.94 C363.64,496.78 366.97,497.59 370.31,498.33 C373.65,499.07 376.99,499.74 380.32,500.38 C383.66,501.01 387.00,501.58 390.33,502.13 C393.67,502.68 397.01,503.18 400.34,503.66 C403.68,504.15 407.02,504.60 410.36,505.04 C413.69,505.49 417.03,505.92 420.37,506.34 C423.70,506.75 427.04,507.16 430.38,507.55 C433.71,507.93 437.05,508.30 440.39,508.66 C443.73,509.01 447.06,509.35 450.40,509.67 C453.74,509.98 457.07,510.29 460.41,510.56 C463.75,510.84 467.09,511.10 470.42,511.34 C473.76,511.58 477.10,511.79 480.43,511.99 C483.77,512.18 487.11,512.35 490.44,512.49 C493.78,512.64 497.12,512.76 500.46,512.86 C503.79,512.96 507.13,513.04 510.47,513.10 C513.80,513.16 517.14,513.20 520.48,513.23 C523.81,513.27 527.15,513.28 530.49,513.28 C533.83,513.29 537.16,513.28 540.50,513.26 C543.84,513.25 547.17,513.22 550.51,513.20 C553.85,513.17 557.19,513.14 560.52,513.10 C563.86,513.07 567.20,513.04 570.53,513.01 C573.87,512.97 577.21,512.94 580.54,512.91 C583.88,512.89 587.22,512.86 590.56,512.83 C593.89,512.81 597.23,512.79 600.57,512.77 C603.90,512.74 607.24,512.72 610.58,512.71 C613.91,512.69 617.25,512.67 620.59,512.66 C623.93,512.64 627.26,512.63 630.60,512.62 C633.94,512.60 637.27,512.59 640.61,512.58 C643.95,512.57 647.29,512.56 650.62,512.56 C653.96,512.55 657.30,512.54 660.63,512.54 C663.97,512.53 667.31,512.53 670.64,512.53 C673.98,512.52 677.32,512.52 680.66,512.52 C683.99,512.52 687.33,512.52 690.67,512.52 C694.00,512.52 697.34,512.52 700.68,512.52 C704.01,512.52 707.35,512.52 710.69,512.53 C714.03,512.53 717.36,512.53 720.70,512.53 C724.04,512.54 727.37,512.54 730.71,512.55 C734.05,512.55 737.39,512.56 740.72,512.56 C744.06,512.57 747.40,512.57 750.73,512.58 C754.07,512.58 757.41,512.59 760.74,512.59 C764.08,512.60 767.42,512.60 770.76,512.61 C774.09,512.61 777.43,512.62 780.77,512.62 C784.10,512.63 787.44,512.64 790.78,512.64 C794.11,512.64 797.45,512.65 800.79,512.65 C804.13,512.66 807.46,512.66 810.80,512.66 C814.14,512.67 817.47,512.67 820.81,512.67 C824.15,512.67 827.49,512.68 830.82,512.68 C834.16,512.68 837.50,512.68 840.83,512.68 C844.17,512.68 847.51,512.67 850.84,512.67 C854.18,512.67 857.52,512.67 860.86,512.66 C864.19,512.66 867.53,512.65 870.87,512.65 C874.20,512.64 877.54,512.63 880.88,512.62 C884.21,512.62 887.55,512.61 890.89,512.60 C894.23,512.58 897.56,512.57 900.90,512.56 C904.24,512.54 907.57,512.53 910.91,512.51 C914.25,512.50 917.59,512.48 920.92,512.46 C924.26,512.44 927.60,512.42 930.93,512.39 C934.27,512.37 937.61,512.35 940.94,512.32 C944.28,512.29 947.62,512.26 950.96,512.23 C954.29,512.20 957.63,512.17 960.97,512.14 C964.30,512.10 967.64,512.07 970.98,512.03 C974.31,511.99 977.65,511.95 980.99,511.91 C984.33,511.86 989.33,511.80 991.00,511.77" fill="none" stroke="#a6aacc" stroke-width="1.9"/>
<path d="M90.00,541.28 C91.67,541.28 96.67,541.27 100.01,541.32 C103.35,541.37 106.69,541.46 110.02,541.57 C113.36,541.69 116.70,541.83 120.03,541.99 C123.37,542.16 126.71,542.35 130.04,542.54 C133.38,542.74 136.72,542.96 140.06,543.18 C143.39,543.40 146.73,543.63 150.07,543.86 C153.40,544.09 156.74,544.33 160.08,544.55 C163.41,544.78 166.75,545.00 170.09,545.21 C173.43,545.41 176.76,545.61 180.10,545.79 C183.44,545.96 186.77,546.12 190.11,546.25 C193.45,546.38 196.79,546.49 200.12,546.56 C203.46,546.64 206.80,546.68 210.13,546.68 C213.47,546.68 216.81,546.65 220.14,546.56 C223.48,546.47 226.82,546.34 230.16,546.14 C233.49,545.95 236.83,545.71 240.17,545.39 C243.50,545.07 246.84,544.70 250.18,544.24 C253.51,543.78 256.85,543.26 260.19,542.65 C263.53,542.03 266.86,541.34 270.20,540.55 C273.54,539.76 276.87,538.88 280.21,537.93 C283.55,536.98 286.89,535.94 290.22,534.85 C293.56,533.76 296.90,532.60 300.23,531.40 C303.57,530.21 306.91,528.95 310.24,527.68 C313.58,526.41 316.92,525.10 320.26,523.78 C323.59,522.47 326.93,521.12 330.27,519.79 C333.60,518.47 336.94,517.12 340.28,515.81 C343.61,514.51 346.95,513.20 350.29,511.96 C353.63,510.71 356.96,509.48 360.30,508.33 C363.64,507.19 366.97,506.08 370.31,505.07 C373.65,504.06 376.99,503.11 380.32,502.27 C383.66,501.44 387.00,500.69 390.33,500.07 C393.67,499.45 397.01,498.94 400.34,498.53 C403.68,498.12 407.02,497.83 410.36,497.60 C413.69,497.38 417.03,497.25 420.37,497.18 C423.70,497.12 427.04,497.13 430.38,497.19 C433.71,497.25 437.05,497.37 440.39,497.53 C443.73,497.68 447.06,497.88 450.40,498.10 C453.74,498.31 457.07,498.57 460.41,498.82 C463.75,499.08 467.09,499.36 470.42,499.64 C473.76,499.92 477.10,500.22 480.43,500.50 C483.77,500.78 487.11,501.08 490.44,501.35 C493.78,501.62 497.12,501.89 500.46,502.13 C503.79,502.37 507.13,502.60 510.47,502.79 C513.80,502.98 517.14,503.15 520.48,503.28 C523.81,503.40 527.15,503.50 530.49,503.54 C533.83,503.58 537.16,503.58 540.50,503.52 C543.84,503.46 547.17,503.35 550.51,503.18 C553.85,503.00 557.19,502.76 560.52,502.47 C563.86,502.17 567.20,501.81 570.53,501.41 C573.87,501.01 577.21,500.56 580.54,500.06 C583.88,499.57 587.22,499.03 590.56,498.45 C593.89,497.88 597.23,497.26 600.57,496.62 C603.90,495.98 607.24,495.31 610.58,494.62 C613.91,493.93 617.25,493.20 620.59,492.47 C623.93,491.74 627.26,490.99 630.60,490.23 C633.94,489.47 637.27,488.70 640.61,487.93 C643.95,487.16 647.29,486.38 650.62,485.62 C653.96,484.85 657.30,484.08 660.63,483.32 C663.97,482.57 667.31,481.82 670.64,481.10 C673.98,480.37 677.32,479.66 680.66,478.96 C683.99,478.25 687.33,477.57 690.67,476.88 C694.00,476.20 697.34,475.52 700.68,474.84 C704.01,474.15 707.35,473.48 710.69,472.79 C714.03,472.09 717.36,471.40 720.70,470.69 C724.04,469.98 727.37,469.26 730.71,468.52 C734.05,467.79 737.39,467.03 740.72,466.27 C744.06,465.51 747.40,464.73 750.73,463.98 C754.07,463.22 757.41,462.46 760.74,461.73 C764.08,460.99 767.42,460.27 770.76,459.58 C774.09,458.90 777.43,458.24 780.77,457.62 C784.10,457.01 787.44,456.43 790.78,455.90 C794.11,455.36 797.45,454.87 800.79,454.41 C804.13,453.96 807.46,453.55 810.80,453.18 C814.14,452.81 817.47,452.48 820.81,452.19 C824.15,451.90 827.49,451.65 830.82,451.44 C834.16,451.23 837.50,451.07 840.83,450.94 C844.17,450.81 847.51,450.73 850.84,450.68 C854.18,450.64 857.52,450.64 860.86,450.67 C864.19,450.71 867.53,450.79 870.87,450.91 C874.20,451.03 877.54,451.19 880.88,451.39 C884.21,451.59 887.55,451.83 890.89,452.11 C894.23,452.39 897.56,452.72 900.90,453.08 C904.24,453.44 907.57,453.85 910.91,454.28 C914.25,454.71 917.59,455.18 920.92,455.67 C924.26,456.16 927.60,456.67 930.93,457.20 C934.27,457.72 937.61,458.26 940.94,458.81 C944.28,459.35 947.62,459.91 950.96,460.45 C954.29,461.00 957.63,461.55 960.97,462.08 C964.30,462.61 967.64,463.14 970.98,463.63 C974.31,464.13 977.65,464.62 980.99,465.07 C984.33,465.52 989.33,466.12 991.00,466.33" fill="none" stroke="#e09c5c" stroke-width="1.9"/>
<path d="M90.00,501.83 C91.67,501.73 96.67,501.33 100.01,501.22 C103.35,501.12 106.69,501.12 110.02,501.19 C113.36,501.26 116.70,501.43 120.03,501.66 C123.37,501.88 126.71,502.19 130.04,502.54 C133.38,502.89 136.72,503.31 140.06,503.76 C143.39,504.21 146.73,504.72 150.07,505.24 C153.40,505.76 156.74,506.33 160.08,506.90 C163.41,507.48 166.75,508.08 170.09,508.67 C173.43,509.27 176.76,509.88 180.10,510.47 C183.44,511.06 186.77,511.66 190.11,512.22 C193.45,512.78 196.79,513.33 200.12,513.83 C203.46,514.34 206.80,514.82 210.13,515.24 C213.47,515.67 216.81,516.05 220.14,516.39 C223.48,516.72 226.82,517.01 230.16,517.26 C233.49,517.51 236.83,517.71 240.17,517.88 C243.50,518.05 246.84,518.18 250.18,518.27 C253.51,518.36 256.85,518.41 260.19,518.43 C263.53,518.45 266.86,518.44 270.20,518.39 C273.54,518.35 276.87,518.27 280.21,518.16 C283.55,518.05 286.89,517.92 290.22,517.76 C293.56,517.60 296.90,517.41 300.23,517.19 C303.57,516.98 306.91,516.75 310.24,516.49 C313.58,516.23 316.92,515.95 320.26,515.66 C323.59,515.36 326.93,515.05 330.27,514.72 C333.60,514.39 336.94,514.04 340.28,513.68 C343.61,513.33 346.95,512.96 350.29,512.60 C353.63,512.24 356.96,511.87 360.30,511.52 C363.64,511.16 366.97,510.81 370.31,510.47 C373.65,510.14 376.99,509.81 380.32,509.51 C383.66,509.22 387.00,508.94 390.33,508.69 C393.67,508.44 397.01,508.22 400.34,508.03 C403.68,507.83 407.02,507.66 410.36,507.51 C413.69,507.36 417.03,507.24 420.37,507.12 C423.70,507.00 427.04,506.91 430.38,506.82 C433.71,506.73 437.05,506.66 440.39,506.59 C443.73,506.52 447.06,506.46 450.40,506.40 C453.74,506.34 457.07,506.29 460.41,506.22 C463.75,506.16 467.09,506.10 470.42,506.02 C473.76,505.94 477.10,505.86 480.43,505.75 C483.77,505.65 487.11,505.53 490.44,505.39 C493.78,505.24 497.12,505.08 500.46,504.88 C503.79,504.68 507.13,504.46 510.47,504.19 C513.80,503.93 517.14,503.64 520.48,503.29 C523.81,502.95 527.15,502.57 530.49,502.14 C533.83,501.70 537.16,501.23 540.50,500.69 C543.84,500.15 547.17,499.56 550.51,498.91 C553.85,498.26 557.19,497.54 560.52,496.77 C563.86,496.01 567.20,495.18 570.53,494.32 C573.87,493.45 577.21,492.53 580.54,491.58 C583.88,490.63 587.22,489.63 590.56,488.61 C593.89,487.59 597.23,486.53 600.57,485.45 C603.90,484.37 607.24,483.26 610.58,482.14 C613.91,481.02 617.25,479.87 620.59,478.72 C623.93,477.57 627.26,476.40 630.60,475.24 C633.94,474.08 637.27,472.91 640.61,471.74 C643.95,470.58 647.29,469.42 650.62,468.27 C653.96,467.12 657.30,465.98 660.63,464.86 C663.97,463.75 667.31,462.64 670.64,461.57 C673.98,460.50 677.32,459.45 680.66,458.42 C683.99,457.40 687.33,456.40 690.67,455.42 C694.00,454.45 697.34,453.50 700.68,452.57 C704.01,451.65 707.35,450.75 710.69,449.88 C714.03,449.00 717.36,448.15 720.70,447.33 C724.04,446.50 727.37,445.70 730.71,444.92 C734.05,444.15 737.39,443.40 740.72,442.67 C744.06,441.94 747.40,441.24 750.73,440.56 C754.07,439.88 757.41,439.23 760.74,438.60 C764.08,437.97 767.42,437.37 770.76,436.79 C774.09,436.20 777.43,435.65 780.77,435.12 C784.10,434.58 787.44,434.07 790.78,433.59 C794.11,433.11 797.45,432.65 800.79,432.21 C804.13,431.78 807.46,431.37 810.80,430.98 C814.14,430.60 817.47,430.24 820.81,429.91 C824.15,429.58 827.49,429.27 830.82,429.00 C834.16,428.72 837.50,428.46 840.83,428.24 C844.17,428.02 847.51,427.82 850.84,427.65 C854.18,427.48 857.52,427.34 860.86,427.22 C864.19,427.11 867.53,427.03 870.87,426.97 C874.20,426.91 877.54,426.89 880.88,426.89 C884.21,426.89 887.55,426.92 890.89,426.98 C894.23,427.05 897.56,427.14 900.90,427.26 C904.24,427.38 907.57,427.53 910.91,427.71 C914.25,427.89 917.59,428.09 920.92,428.31 C924.26,428.53 927.60,428.78 930.93,429.04 C934.27,429.29 937.61,429.57 940.94,429.85 C944.28,430.14 947.62,430.43 950.96,430.73 C954.29,431.03 957.63,431.34 960.97,431.65 C964.30,431.95 967.64,432.26 970.98,432.57 C974.31,432.87 977.65,433.17 980.99,433.46 C984.33,433.75 989.33,434.16 991.00,434.30" fill="none" stroke="#3ad6a0" stroke-width="1.9"/>
<path d="M90.00,426.52 C91.67,426.56 96.67,426.65 100.01,426.74 C103.35,426.83 106.69,426.94 110.02,427.06 C113.36,427.19 116.70,427.33 120.03,427.49 C123.37,427.65 126.71,427.83 130.04,428.03 C133.38,428.22 136.72,428.44 140.06,428.67 C143.39,428.90 146.73,429.15 150.07,429.42 C153.40,429.69 156.74,429.97 160.08,430.27 C163.41,430.58 166.75,430.90 170.09,431.24 C173.43,431.58 176.76,431.94 180.10,432.31 C183.44,432.69 186.77,433.08 190.11,433.49 C193.45,433.90 196.79,434.33 200.12,434.78 C203.46,435.23 206.80,435.70 210.13,436.18 C213.47,436.66 216.81,437.17 220.14,437.69 C223.48,438.21 226.82,438.75 230.16,439.30 C233.49,439.86 236.83,440.43 240.17,441.02 C243.50,441.61 246.84,442.21 250.18,442.84 C253.51,443.46 256.85,444.10 260.19,444.76 C263.53,445.41 266.86,446.08 270.20,446.77 C273.54,447.46 276.87,448.16 280.21,448.87 C283.55,449.59 286.89,450.32 290.22,451.05 C293.56,451.78 296.90,452.53 300.23,453.27 C303.57,454.02 306.91,454.77 310.24,455.52 C313.58,456.27 316.92,457.02 320.26,457.77 C323.59,458.52 326.93,459.27 330.27,460.00 C333.60,460.74 336.94,461.47 340.28,462.19 C343.61,462.91 346.95,463.63 350.29,464.33 C353.63,465.03 356.96,465.72 360.30,466.40 C363.64,467.08 366.97,467.74 370.31,468.39 C373.65,469.04 376.99,469.68 380.32,470.30 C383.66,470.92 387.00,471.53 390.33,472.11 C393.67,472.69 397.01,473.26 400.34,473.81 C403.68,474.36 407.02,474.88 410.36,475.39 C413.69,475.89 417.03,476.38 420.37,476.83 C423.70,477.29 427.04,477.73 430.38,478.14 C433.71,478.55 437.05,478.93 440.39,479.29 C443.73,479.64 447.06,479.97 450.40,480.27 C453.74,480.57 457.07,480.84 460.41,481.08 C463.75,481.33 467.09,481.54 470.42,481.73 C473.76,481.93 477.10,482.09 480.43,482.24 C483.77,482.38 487.11,482.51 490.44,482.61 C493.78,482.72 497.12,482.80 500.46,482.87 C503.79,482.94 507.13,482.99 510.47,483.02 C513.80,483.06 517.14,483.08 520.48,483.09 C523.81,483.10 527.15,483.10 530.49,483.09 C533.83,483.08 537.16,483.05 540.50,483.03 C543.84,483.00 547.17,482.96 550.51,482.92 C553.85,482.88 557.19,482.84 560.52,482.79 C563.86,482.73 567.20,482.68 570.53,482.61 C573.87,482.55 577.21,482.48 580.54,482.39 C583.88,482.31 587.22,482.22 590.56,482.12 C593.89,482.02 597.23,481.91 600.57,481.79 C603.90,481.67 607.24,481.53 610.58,481.39 C613.91,481.24 617.25,481.08 620.59,480.91 C623.93,480.73 627.26,480.55 630.60,480.34 C633.94,480.14 637.27,479.92 640.61,479.68 C643.95,479.45 647.29,479.19 650.62,478.92 C653.96,478.65 657.30,478.36 660.63,478.05 C663.97,477.74 667.31,477.41 670.64,477.06 C673.98,476.71 677.32,476.34 680.66,475.96 C683.99,475.57 687.33,475.16 690.67,474.74 C694.00,474.32 697.34,473.89 700.68,473.44 C704.01,473.00 707.35,472.54 710.69,472.08 C714.03,471.62 717.36,471.14 720.70,470.67 C724.04,470.19 727.37,469.71 730.71,469.23 C734.05,468.75 737.39,468.27 740.72,467.79 C744.06,467.30 747.40,466.82 750.73,466.35 C754.07,465.88 757.41,465.41 760.74,464.95 C764.08,464.49 767.42,464.03 770.76,463.59 C774.09,463.15 777.43,462.72 780.77,462.31 C784.10,461.89 787.44,461.49 790.78,461.11 C794.11,460.73 797.45,460.36 800.79,460.02 C804.13,459.68 807.46,459.36 810.80,459.06 C814.14,458.77 817.47,458.50 820.81,458.26 C824.15,458.02 827.49,457.80 830.82,457.62 C834.16,457.44 837.50,457.29 840.83,457.18 C844.17,457.06 847.51,456.98 850.84,456.94 C854.18,456.89 857.52,456.88 860.86,456.91 C864.19,456.93 867.53,456.98 870.87,457.07 C874.20,457.15 877.54,457.27 880.88,457.42 C884.21,457.56 887.55,457.74 890.89,457.94 C894.23,458.15 897.56,458.38 900.90,458.64 C904.24,458.90 907.57,459.19 910.91,459.49 C914.25,459.80 917.59,460.13 920.92,460.48 C924.26,460.83 927.60,461.20 930.93,461.59 C934.27,461.97 937.61,462.37 940.94,462.78 C944.28,463.19 947.62,463.61 950.96,464.04 C954.29,464.46 957.63,464.90 960.97,465.34 C964.30,465.78 967.64,466.22 970.98,466.66 C974.31,467.10 977.65,467.55 980.99,467.98 C984.33,468.42 989.33,469.06 991.00,469.28" fill="none" stroke="#9b44e4" stroke-width="1.9"/>

<line x1="90.00" y1="230" x2="90.00" y2="616" stroke="#56617f" stroke-width="1.1" stroke-dasharray="7 6.8" stroke-dashoffset="3.4"/>
<line x1="240.17" y1="230" x2="240.17" y2="616" stroke="#56617f" stroke-width="1.1" stroke-dasharray="7 6.8" stroke-dashoffset="3.4"/>
<line x1="390.33" y1="230" x2="390.33" y2="616" stroke="#56617f" stroke-width="1.1" stroke-dasharray="7 6.8" stroke-dashoffset="3.4"/>
<line x1="540.50" y1="230" x2="540.50" y2="616" stroke="#56617f" stroke-width="1.1" stroke-dasharray="7 6.8" stroke-dashoffset="3.4"/>
<line x1="690.67" y1="230" x2="690.67" y2="616" stroke="#56617f" stroke-width="1.1" stroke-dasharray="7 6.8" stroke-dashoffset="3.4"/>
<line x1="840.83" y1="230" x2="840.83" y2="616" stroke="#56617f" stroke-width="1.1" stroke-dasharray="7 6.8" stroke-dashoffset="3.4"/>
<line x1="991.00" y1="230" x2="991.00" y2="616" stroke="#56617f" stroke-width="1.1" stroke-dasharray="7 6.8" stroke-dashoffset="3.4"/>

</svg>
</body></html>
